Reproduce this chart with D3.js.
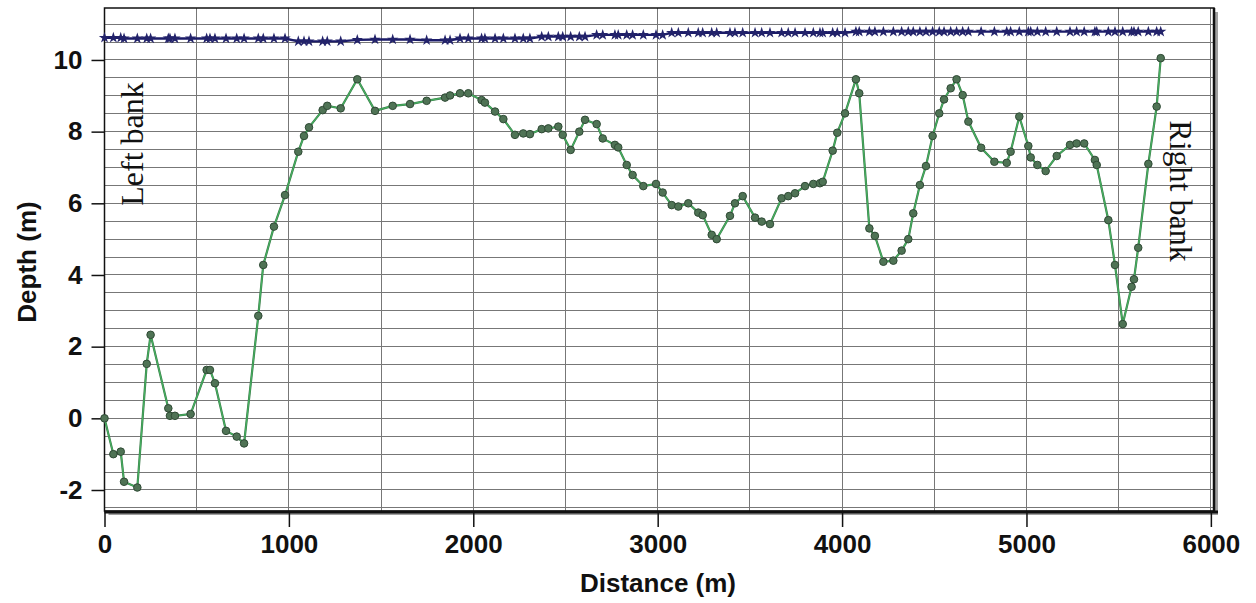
<!DOCTYPE html>
<html><head><meta charset="utf-8">
<script src="https://cdn.jsdelivr.net/npm/d3@7"></script>
<style>body{margin:0;background:#fff;} svg{display:block;}</style>
</head><body><svg id="c" width="1256" height="603"></svg>
<script>
// ---- data ----
const distance = [0,48,88,106,178,229,250,346,355,382,
  467,554,572,599,659,717,757,834,861,919,
  979,1051,1082,1109,1183,1208,1281,1371,1467,1563,
  1657,1747,1847,1874,1928,1973,2045,2063,2118,2163,
  2226,2271,2307,2371,2407,2461,2485,2528,2575,2606,
  2669,2702,2768,2786,2832,2864,2922,2991,3027,3076,
  3112,3166,3220,3244,3293,3320,3392,3419,3461,3528,
  3564,3609,3672,3708,3745,3799,3844,3880,3895,3949,
  3974,4016,4075,4093,4148,4178,4224,4278,4323,4359,
  4386,4422,4455,4491,4527,4553,4589,4621,4654,4685,
  4754,4826,4893,4914,4961,5010,5023,5059,5104,5164,
  5236,5272,5313,5371,5381,5444,5480,5522,5570,5583,
  5606,5661,5706,5728];
const bedDepth = [0.0,-1.0,-0.93,-1.77,-1.93,1.52,2.33,0.28,0.07,0.07,
  0.12,1.35,1.35,0.98,-0.35,-0.51,-0.70,2.86,4.28,5.35,
  6.23,7.44,7.88,8.12,8.60,8.72,8.65,9.46,8.58,8.72,
  8.77,8.86,8.95,9.01,9.07,9.07,8.88,8.81,8.56,8.35,
  7.91,7.95,7.93,8.07,8.09,8.14,7.91,7.49,8.00,8.33,
  8.21,7.81,7.63,7.56,7.07,6.79,6.48,6.54,6.30,5.95,
  5.91,6.00,5.74,5.67,5.12,5.00,5.65,6.00,6.20,5.60,
  5.49,5.42,6.14,6.20,6.28,6.48,6.54,6.56,6.60,7.47,
  7.97,8.51,9.46,9.07,5.30,5.09,4.37,4.40,4.68,5.00,
  5.72,6.51,7.04,7.88,8.51,8.90,9.21,9.46,9.02,8.28,
  7.55,7.16,7.13,7.44,8.42,7.60,7.28,7.07,6.90,7.32,
  7.63,7.67,7.67,7.21,7.07,5.53,4.28,2.63,3.67,3.88,
  4.76,7.10,8.70,10.05];
const surfaceDistance = distance;
const surfaceLevel = [10.62,10.62,10.62,10.60,10.60,10.60,10.60,10.60,10.60,10.60,
  10.60,10.60,10.60,10.60,10.60,10.60,10.60,10.60,10.60,10.60,
  10.60,10.52,10.52,10.52,10.52,10.52,10.52,10.56,10.57,10.57,
  10.57,10.55,10.55,10.55,10.60,10.60,10.60,10.60,10.60,10.60,
  10.60,10.60,10.60,10.65,10.65,10.65,10.65,10.65,10.65,10.65,
  10.70,10.70,10.70,10.70,10.70,10.70,10.70,10.70,10.70,10.76,
  10.76,10.76,10.76,10.76,10.76,10.76,10.76,10.76,10.76,10.76,
  10.76,10.76,10.76,10.76,10.76,10.76,10.76,10.76,10.76,10.76,
  10.76,10.76,10.79,10.79,10.79,10.79,10.79,10.79,10.79,10.79,
  10.79,10.79,10.79,10.79,10.79,10.79,10.79,10.79,10.79,10.79,
  10.79,10.79,10.79,10.79,10.79,10.79,10.79,10.79,10.79,10.79,
  10.79,10.79,10.79,10.79,10.79,10.79,10.79,10.79,10.79,10.79,
  10.79,10.79,10.79,10.79];
const xTicks = [0,1000,2000,3000,4000,5000,6000];
const yTicks = [-2,0,2,4,6,8,10];
const xDomain = [0, 6017];
const yDomain = [-2.586, 11.45];

// ---- chart ----
const svg = d3.select("#c");
const x = d3.scaleLinear().domain(xDomain).range([104.5, 1214]);
const y = d3.scaleLinear().domain(yDomain).range([511, 8]);
const X0 = x(xDomain[0]), X1 = x(xDomain[1]), Y0 = y(yDomain[1]), Y1 = y(yDomain[0]);

// frame shadow
svg.append("rect").attr("x", X0 + 4).attr("y", Y0 + 4).attr("width", X1 - X0).attr("height", Y1 - Y0)
  .attr("fill", "#a0a0a0");
svg.append("rect").attr("x", X0).attr("y", Y0).attr("width", X1 - X0).attr("height", Y1 - Y0)
  .attr("fill", "#fff");

// grid
const g = svg.append("g");
g.selectAll("line.h").data(d3.range(-2.5, 11.01, 0.5)).join("line")
  .attr("x1", X0).attr("x2", X1).attr("y1", d => y(d)).attr("y2", d => y(d))
  .attr("stroke", "#777").attr("stroke-width", 1).attr("shape-rendering", "crispEdges");
g.selectAll("line.v").data(d3.range(500, 6001, 500)).join("line")
  .attr("y1", Y0).attr("y2", Y1).attr("x1", d => x(d)).attr("x2", d => x(d))
  .attr("stroke", "#777").attr("stroke-width", 1).attr("shape-rendering", "crispEdges");

// frame border
svg.append("rect").attr("x", X0).attr("y", Y0).attr("width", X1 - X0).attr("height", Y1 - Y0)
  .attr("fill", "none").attr("stroke", "#111").attr("stroke-width", 1.5);
svg.append("line").attr("x1", X0).attr("x2", X1 + 4).attr("y1", Y1 + 1).attr("y2", Y1 + 1)
  .attr("stroke", "#111").attr("stroke-width", 3);
svg.append("line").attr("x1", X1).attr("x2", X1).attr("y1", Y0).attr("y2", Y1)
  .attr("stroke", "#111").attr("stroke-width", 2.5);

// axes
const fontTick = "bold 26px 'Liberation Sans', Arial, sans-serif";
const fmt = d => String(d);
const ax = svg.append("g").attr("transform", `translate(0,${Y1})`)
  .call(d3.axisBottom(x).tickValues(xTicks).tickFormat(fmt).tickSize(16).tickPadding(8));
ax.select(".domain").remove();
ax.selectAll("line").attr("stroke", "#111").attr("stroke-width", 1.5);
ax.selectAll("text").style("font", fontTick).attr("fill", "#111");

const ay = svg.append("g").attr("transform", `translate(${X0},0)`)
  .call(d3.axisLeft(y).tickValues(yTicks).tickFormat(fmt).tickSize(13).tickPadding(9));
ay.select(".domain").remove();
ay.selectAll("line").attr("stroke", "#111").attr("stroke-width", 1.5);
ay.selectAll("text").style("font", fontTick).attr("fill", "#111");

// axis titles
svg.append("text").attr("x", 658).attr("y", 592).attr("text-anchor", "middle")
  .style("font", fontTick).attr("fill", "#111").text("Distance (m)");
svg.append("text").attr("transform", "translate(36,262) rotate(-90)").attr("text-anchor", "middle")
  .style("font", fontTick).attr("fill", "#111").text("Depth (m)");

// water surface line
const surf = surfaceDistance.map((d, i) => [d, surfaceLevel[i]]);
const line = d3.line().x(d => x(d[0])).y(d => y(d[1]));
svg.append("path").datum(surf).attr("d", line).attr("fill", "none")
  .attr("stroke", "#1b1b68").attr("stroke-width", 2.4);
svg.append("g").selectAll("path").data(surf).join("path")
  .attr("transform", d => `translate(${x(d[0])},${y(d[1])})`)
  .attr("d", d3.symbol(d3.symbolStar, 40)).attr("fill", "#22226a");

// bed profile line
const bed = distance.map((d, i) => [d, bedDepth[i]]);
svg.append("path").datum(bed).attr("d", line).attr("fill", "none")
  .attr("stroke", "#3d7a4a").attr("stroke-width", 2.2);
svg.append("path").datum(bed).attr("d", line).attr("fill", "none")
  .attr("stroke", "#45b060").attr("stroke-width", 1.2);
svg.append("g").selectAll("circle").data(bed).join("circle")
  .attr("cx", d => x(d[0])).attr("cy", d => y(d[1])).attr("r", 3.8)
  .attr("fill", "#4f7355").attr("stroke", "#2f4a35").attr("stroke-width", 1);

// bank labels
const fontSerif = "32px 'Liberation Serif', 'Times New Roman', serif";
svg.append("text").attr("transform", "translate(143,144) rotate(-90)").attr("text-anchor", "middle")
  .style("font", fontSerif).attr("fill", "#111").text("Left bank");
svg.append("text").attr("transform", "translate(1170,191) rotate(90)").attr("text-anchor", "middle")
  .style("font", fontSerif).attr("fill", "#111").text("Right bank");
</script>
</body></html>
